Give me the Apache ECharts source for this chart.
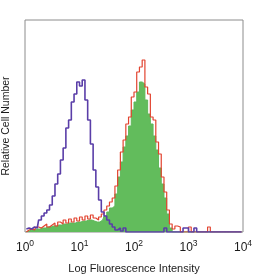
<!DOCTYPE html>
<html><head><meta charset="utf-8">
<script src="https://cdn.jsdelivr.net/npm/echarts@6/dist/echarts.min.js"></script>
<style>html,body{margin:0;padding:0;background:#fff}#c{width:256px;height:277px}</style>
</head><body><div id="c"></div>
<script>
// bin centers (log10 of fluorescence intensity)
var binCenters = [0.025,0.075,0.125,0.175,0.225,0.275,0.325,0.375,0.425,0.475,
0.525,0.575,0.625,0.675,0.725,0.775,0.825,0.875,0.925,0.975,
1.025,1.075,1.125,1.175,1.225,1.275,1.325,1.375,1.425,1.475,
1.525,1.575,1.625,1.675,1.725,1.775,1.825,1.875,1.925,1.975,
2.025,2.075,2.125,2.175,2.225,2.275,2.325,2.375,2.425,2.475,
2.525,2.575,2.625,2.675,2.725,2.775,2.825,2.875,2.925,2.975,
3.025,3.075,3.125,3.175,3.225,3.275,3.325,3.375,3.425,3.475,
3.525,3.575,3.625,3.675,3.725,3.775,3.825,3.875,3.925,3.975];
var isotypePurple = [3,4,3,5,4,12,16,19,22,27,
36,48,58,72,84,104,112,130,138,150,
146,152,132,112,88,62,45,32,20,16,
12,8,5,2,4,1,4,0,0,0,
0,0,0,0,0,0,0,0,0,0,
0,4,0,0,0,0,0,0,4,4,
0,0,4,0,0,0,0,0,0,0,
0,0,0,0,0,0,0,0,0,0];
var stainedGreen = [0,1,2,2,3,3,4,4,5,5,
6,6,7,7,8,8,9,9,9,10,
10,11,11,12,12,11,10,10,12,16,
20,24,26,38,55,70,85,96,106,122,
130,140,150,148,132,118,108,96,82,64,
48,34,18,4,0,0,0,0,0,0,
0,0,0,0,0,0,0,0,0,0,
0,0,0,0,0,0,0,0,0,0];
var stainedRed = [0,2,3,2,5,4,6,8,5,7,
9,6,10,8,12,9,13,10,14,11,
15,12,16,13,17,14,12,15,18,22,
26,30,34,46,62,80,92,108,115,135,
140,160,165,172,145,138,115,112,90,78,
55,40,22,8,3,6,5,0,0,0,
5,0,0,0,0,0,0,5,0,0,
0,0,0,0,0,0,0,0,0,0];
var tickExponents = ['0','1','2','3','4'];

function pairs(v){ return binCenters.map(function(x,i){return [x,v[i]];}); }

var chart = echarts.init(document.getElementById('c'), null, {renderer:'canvas'});
chart.setOption({
  animation:false,
  grid:{left:25,right:13,top:20,bottom:45,outerBoundsMode:'none',containLabel:false,
    show:true,borderColor:'#8c8c8c',borderWidth:1,backgroundColor:'#fff'},
  xAxis:{type:'value',min:0,max:4,interval:1,
    name:'Log Fluorescence Intensity',nameLocation:'middle',nameGap:31,
    nameTextStyle:{fontFamily:'Liberation Sans',fontSize:11,color:'#1a1a1a'},
    axisLine:{show:false},axisTick:{show:false},splitLine:{show:false},
    axisLabel:{margin:7,formatter:function(v){return '{b|10}{s|'+tickExponents[Math.round(v)]+'}';},
      rich:{b:{fontFamily:'Liberation Sans',fontSize:12,color:'#1a1a1a'},
            s:{fontFamily:'Liberation Sans',fontSize:8.5,color:'#1a1a1a',padding:[0,0,8,0]}}}},
  yAxis:{type:'value',min:0,max:212,
    name:'Relative Cell Number',nameLocation:'middle',nameGap:13,
    nameTextStyle:{fontFamily:'Liberation Sans',fontSize:10.5,color:'#1a1a1a'},
    axisLine:{show:false},axisTick:{show:false},axisLabel:{show:false},splitLine:{show:false}},
  series:[
    {type:'line',step:'middle',data:pairs(stainedGreen),symbol:'none',
     lineStyle:{width:1,color:'#5fb85a'},areaStyle:{color:'#62bc5c',opacity:1},z:2},
    {type:'line',step:'middle',data:pairs(stainedRed),symbol:'none',
     lineStyle:{width:1.2,color:'#e2432f'},z:3},
    {type:'line',step:'middle',data:pairs(isotypePurple),symbol:'none',
     lineStyle:{width:1.6,color:'#5a3ea8'},z:4}
  ]
});
</script></body></html>
